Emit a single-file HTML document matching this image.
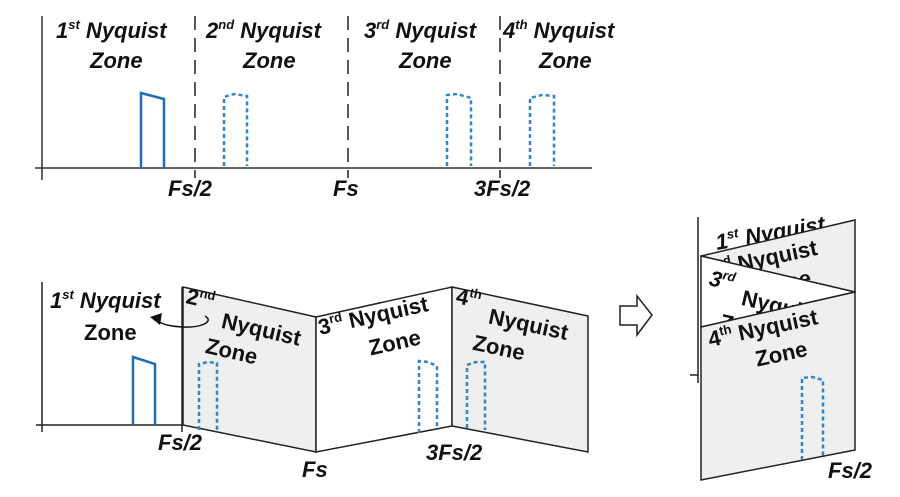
<!DOCTYPE html>
<html><head><meta charset="utf-8"><style>
html,body{margin:0;padding:0;background:#fff;width:900px;height:497px;overflow:hidden}
text{font-family:"Liberation Sans",Arial,sans-serif;font-weight:bold;font-size:22px;fill:#111}
.i{font-style:italic}
.s{font-size:13px}
</style></head><body>
<svg width="900" height="497" viewBox="0 0 900 497" xmlns="http://www.w3.org/2000/svg">
<!-- TOP -->
<g stroke="#333" stroke-width="1.5" fill="none">
<line x1="42" y1="16" x2="42" y2="180"/>
<line x1="35" y1="168" x2="592" y2="168"/>
<g stroke-dasharray="14,8" stroke="#222"><line x1="195" y1="16" x2="195" y2="178"/><line x1="348" y1="16" x2="348" y2="178"/><line x1="500" y1="16" x2="500" y2="178"/></g>
</g>
<polyline points="141,168 141,93 164,99 164,168" fill="none" stroke="#1f6fb0" stroke-width="2.5"/>
<g fill="none" stroke="#2f86cc" stroke-width="2.5" stroke-dasharray="4,3">
<polyline points="224,166 224,97 234,94 247,96 247,166"/>
<polyline points="447,166 447,95 457,94 471,98 471,166"/>
<polyline points="530,166 530,98 542,95 554,96 554,166"/>
</g>
<text class="i" x="56" y="38">1<tspan class="s" dy="-9">st</tspan><tspan dy="9"> Nyquist</tspan></text>
<text class="i" x="90" y="68">Zone</text>
<text class="i" x="206" y="38">2<tspan class="s" dy="-9">nd</tspan><tspan dy="9"> Nyquist</tspan></text>
<text class="i" x="243" y="68">Zone</text>
<text class="i" x="364" y="38">3<tspan class="s" dy="-9">rd</tspan><tspan dy="9"> Nyquist</tspan></text>
<text class="i" x="399" y="68">Zone</text>
<text class="i" x="503" y="38">4<tspan class="s" dy="-9">th</tspan><tspan dy="9"> Nyquist</tspan></text>
<text class="i" x="539" y="68">Zone</text>
<text class="i" x="168" y="196">Fs/2</text>
<text class="i" x="333" y="196">Fs</text>
<text class="i" x="474" y="196">3Fs/2</text>

<!-- BOTTOM -->
<g stroke="#222" stroke-width="1.5">
<polygon points="183,287 316,317 316,452 183,425" fill="#efefef"/>
<polygon points="316,317 452,287 452,426 316,452" fill="#fff"/>
<polygon points="452,287 588,316 588,452 452,426" fill="#efefef"/>
<line x1="42" y1="282" x2="42" y2="432"/>
<line x1="36" y1="425" x2="183" y2="425"/>
<line x1="182" y1="287" x2="182" y2="432"/>
</g>
<polyline points="133,425 133,357 155,364 155,425" fill="none" stroke="#1f6fb0" stroke-width="2.5"/>
<g fill="none" stroke="#2f86cc" stroke-width="2.5" stroke-dasharray="4,3">
<polyline points="199,430 199,364 208,362 217,363 217,430"/>
<polyline points="419,433 419,361 428,362 437,366 437,430"/>
<polyline points="467,428 467,365 476,362 485,362 485,430"/>
</g>
<path d="M205,316 C215,322 200,328 182,327 C168,326 160,324 158,320" fill="none" stroke="#111" stroke-width="1.5"/>
<polygon points="150,317 162,313 160,325" fill="#111"/>
<text x="50" y="308" class="i">1<tspan class="s" dy="-9">st</tspan><tspan dy="9"> Nyquist</tspan></text>
<text x="84" y="340">Zone</text>
<g transform="translate(185,303) rotate(13)"><text x="0" y="0">2<tspan class="s" dy="-9">nd</tspan></text><text x="40" y="16">Nyquist</text><text x="30" y="44">Zone</text></g>
<g transform="translate(320,335) rotate(-12.5)"><text x="0" y="0">3<tspan class="s" dy="-9">rd</tspan><tspan dy="9"> Nyquist</tspan></text><text x="45" y="31">Zone</text></g>
<g transform="translate(455,303) rotate(12)"><text x="0" y="0">4<tspan class="s" dy="-9">th</tspan></text><text x="36" y="13">Nyquist</text><text x="26" y="42">Zone</text></g>
<text class="i" x="158" y="450">Fs/2</text>
<text class="i" x="302" y="477">Fs</text>
<text class="i" x="426" y="460">3Fs/2</text>

<!-- arrow -->
<polygon points="620,306 637,306 637,296 652,315 637,335 637,325 620,325" fill="#fff" stroke="#222" stroke-width="1.5"/>

<!-- RIGHT -->
<line x1="698" y1="217" x2="698" y2="383" stroke="#222" stroke-width="1.5"/>
<line x1="690" y1="375" x2="698" y2="375" stroke="#222" stroke-width="1.5"/>
<g transform="translate(717,250) rotate(-10)"><text class="i" x="0" y="0">1<tspan class="s" dy="-9">st</tspan><tspan dy="9"> Nyquist</tspan></text></g>
<polygon points="701,256 855,220 855,292" fill="#efefef" stroke="#222" stroke-width="1.5"/>
<g transform="translate(718,276) rotate(-12)"><text x="0" y="0"><tspan class="s" dy="-9">nd</tspan><tspan dy="9"> Nyquist</tspan></text><text x="38" y="28">Zone</text></g>
<polygon points="701,256 855,292 701,327" fill="#fff" stroke="#222" stroke-width="1.5"/>
<g transform="translate(708,285) rotate(13)"><text class="i" x="0" y="0">3<tspan class="s" dy="-9">rd</tspan></text><text x="36" y="12">Nyqui</text><text x="20" y="40">Z</text></g>
<polygon points="701,327 855,292 855,450 701,480" fill="#efefef" stroke="#222" stroke-width="1.5"/>
<g transform="translate(710,347) rotate(-12)"><text x="0" y="0">4<tspan class="s" dy="-9">th</tspan><tspan dy="9"> Nyquist</tspan></text><text x="42" y="29">Zone</text></g>
<polyline points="802,460 802,378 812,377 823,380 823,458" fill="none" stroke="#2f86cc" stroke-width="2.5" stroke-dasharray="4,3"/>
<text class="i" x="828" y="478">Fs/2</text>
</svg>
</body></html>
